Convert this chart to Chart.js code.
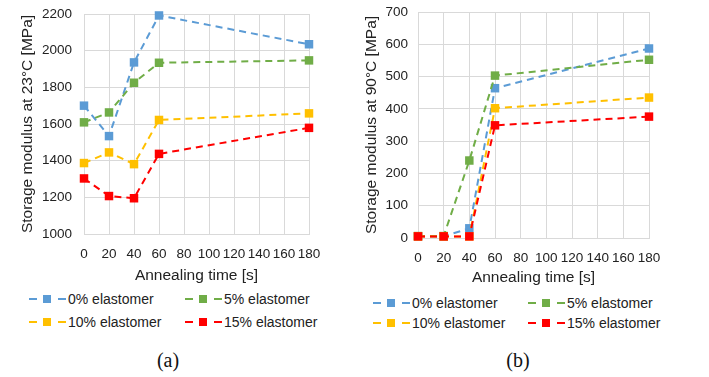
<!DOCTYPE html>
<html lang="en">
<head>
    <meta charset="UTF-8" />
    <title>Storage modulus vs annealing time</title>
    <script src="https://cdn.jsdelivr.net/npm/chart.js"></script>
    <style>
        body { margin: 0; background: #fff; font-family: "Liberation Sans", Arial, sans-serif; }
        #wrap { position: relative; width: 709px; height: 377px; overflow: hidden; }
        canvas { position: absolute; top: 0; }
        .item { position: absolute; display: flex; align-items: center; height: 16px; font-size: 14px; color: #222; white-space: nowrap; }
        .dash { width: 8px; height: 2px; }
        .mark { width: 8px; height: 8px; margin: 0 7px 0 6px; }
        .item span.txt { margin-left: 2px; }
        .cap { position: absolute; font-family: "Liberation Serif", "Times New Roman", serif; font-size: 20px; color: #111; transform: translate(-50%, -50%); }
    </style>
</head>
<body>
<div id="wrap">
    <canvas id="chartA" width="340" height="290" style="left:0"></canvas>
    <canvas id="chartB" width="340" height="290" style="left:350px"></canvas>
    <div id="legendA"></div>
    <div id="legendB"></div>
    <div class="cap" style="left:168px; top:360px">(a)</div>
    <div class="cap" style="left:518px; top:360px">(b)</div>
</div>

<script>
    // annealing times [s]
    const annealTimes = [0, 20, 40, 60, 180];
    const seriesNames = ['0% elastomer', '5% elastomer', '10% elastomer', '15% elastomer'];
    const seriesColors = ['#5B9BD5', '#70AD47', '#FFC000', '#FF0000'];

    // storage modulus at 23 °C [MPa]
    const e0_23 = [1700, 1534, 1936, 2192, 2035];
    const e5_23 = [1609, 1663, 1825, 1934, 1947];
    const e10_23 = [1387, 1445, 1381, 1622, 1658];
    const e15_23 = [1303, 1207, 1195, 1437, 1579];

    // storage modulus at 90 °C [MPa]
    const e0_90 = [5, 5, 30, 464, 587];
    const e5_90 = [6, 6, 240, 503, 552];
    const e10_90 = [5, 5, 5, 402, 435];
    const e15_90 = [5, 5, 5, 349, 376];

    const xTicks = [0, 20, 40, 60, 80, 100, 120, 140, 160, 180];

    Chart.defaults.font.family = '"Liberation Sans", Arial, sans-serif';
    Chart.defaults.color = '#222';

    const gridColor = '#d9d9d9';

    function makeDatasets(list) {
        return list.map((vals, i) => ({
            label: seriesNames[i],
            data: annealTimes.map((t, k) => ({ x: t, y: vals[k] })),
            borderColor: seriesColors[i],
            backgroundColor: seriesColors[i],
            borderWidth: 2,
            borderDash: [7, 5],
            pointStyle: 'rect',
            pointRadius: 6,
            pointBorderWidth: 0,
            pointBackgroundColor: seriesColors[i],
            clip: false,
            order: list.length - 1 - i
        }));
    }

    function makeChart(id, datasets, cfg) {
        return new Chart(document.getElementById(id), {
            type: 'line',
            data: { datasets: datasets },
            options: {
                responsive: false,
                animation: false,
                devicePixelRatio: 1,
                layout: { padding: { left: 0, right: cfg.padRight, top: cfg.padTop, bottom: 0 } },
                plugins: { legend: { display: false }, tooltip: { enabled: false } },
                scales: {
                    x: {
                        type: 'linear',
                        min: 0,
                        max: 180,
                        afterBuildTicks: s => { s.ticks = xTicks.map(v => ({ value: v })); },
                        afterFit: s => { s.height = cfg.xHeight; },
                        grid: { color: gridColor, drawTicks: false },
                        border: { color: gridColor },
                        ticks: { autoSkip: false, maxRotation: 0, padding: cfg.xTickPad, font: { size: 13.5 }, callback: v => String(v) },
                        title: { display: true, text: 'Annealing time [s]', font: { size: 15.5 }, padding: { top: 0, bottom: cfg.xTitlePad } }
                    },
                    y: {
                        min: cfg.yMin,
                        max: cfg.yMax,
                        ticks: { stepSize: cfg.yStep, padding: cfg.yTickPad, font: { size: 13.5 }, callback: v => String(v) },
                        afterFit: s => {
                            s.width = cfg.yWidth;
                            // tick padding should not push the plot down
                            s.paddingTop = 0;
                            s.paddingBottom = 0;
                        },
                        grid: { color: gridColor, drawTicks: false },
                        border: { color: gridColor },
                        title: { display: true, text: cfg.yTitle, font: { size: 15.5 }, padding: { top: cfg.yTitlePad, bottom: 0 } }
                    }
                }
            }
        });
    }

    makeChart('chartA', makeDatasets([e0_23, e5_23, e10_23, e15_23]), {
        padRight: 31, padTop: 14, xHeight: 56, xTickPad: 12, xTitlePad: 5,
        yMin: 1000, yMax: 2200, yStep: 200, yTickPad: 12, yWidth: 84, yTitlePad: 18,
        yTitle: 'Storage modulus at 23°C [MPa]'
    });

    makeChart('chartB', makeDatasets([e0_90, e5_90, e10_90, e15_90]), {
        padRight: 41, padTop: 12, xHeight: 52, xTickPad: 12, xTitlePad: 3,
        yMin: 0, yMax: 700, yStep: 100, yTickPad: 10, yWidth: 68, yTitlePad: 12,
        yTitle: 'Storage modulus at 90°C [MPa]'
    });

    // legends drawn as html, two columns
    function buildLegend(id, cols, rows) {
        const box = document.getElementById(id);
        seriesNames.forEach((name, i) => {
            const c = seriesColors[i];
            const el = document.createElement('div');
            el.className = 'item';
            el.style.left = cols[i % 2] + 'px';
            el.style.top = (rows[Math.floor(i / 2)] - 8) + 'px';
            el.innerHTML = '<span class="dash" style="background:' + c + '"></span>' +
                '<span class="mark" style="background:' + c + '"></span>' +
                '<span class="dash" style="background:' + c + '"></span>' +
                '<span class="txt">' + name + '</span>';
            box.appendChild(el);
        });
    }

    buildLegend('legendA', [29, 185], [299, 322]);
    buildLegend('legendB', [373, 528], [303, 323]);
</script>
</body>
</html>
